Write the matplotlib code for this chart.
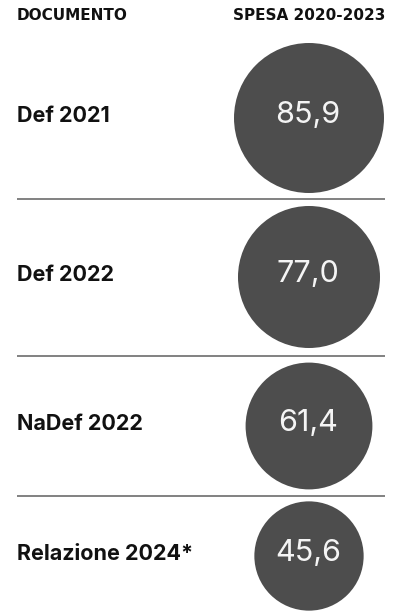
import numpy as np
import matplotlib.pyplot as plt
from matplotlib.patches import Circle

documents = ['Def 2021', 'Def 2022', 'NaDef 2022', 'Relazione 2024*']
spending = [85.9, 77.0, 61.4, 45.6]
value_labels = ['85,9', '77,0', '61,4', '45,6']

W, H = 394, 612
fig = plt.figure(figsize=(W / 100, H / 100), dpi=100)
ax = fig.add_axes([0, 0, 1, 1])
ax.set_xlim(0, W)
ax.set_ylim(H, 0)
ax.set_aspect('equal')
ax.axis('off')

# layout in pixels
cx = 309
centers_y = [118, 277, 426, 556]
r_max = 75
seps = [199, 356, 496]

ax.text(17, 15, 'DOCUMENTO', fontsize=11, fontweight='bold', family='DejaVu Sans',
        va='center', ha='left', color='#111111')
ax.text(385, 15, 'SPESA 2020-2023', fontsize=11, fontweight='bold', family='DejaVu Sans',
        va='center', ha='right', color='#111111')

for y in seps:
    ax.plot([17, 385], [y, y], color='#777777', lw=1.3, solid_capstyle='butt')

for doc, val, lab, cy in zip(documents, spending, value_labels, centers_y):
    r = r_max * np.sqrt(val / spending[0])
    ax.add_patch(Circle((cx, cy), r, facecolor='#4d4d4d', edgecolor='none'))
    ax.text(cx - 1, cy - 3, lab, fontsize=22, color='#f4f4f4', family='Inter',
            fontweight='normal', ha='center', va='center')
    ax.text(17, cy - 2, doc, fontsize=15.5, fontweight='bold', family='Inter',
            ha='left', va='center', color='#111111')

fig.savefig('out.png', dpi=100)
